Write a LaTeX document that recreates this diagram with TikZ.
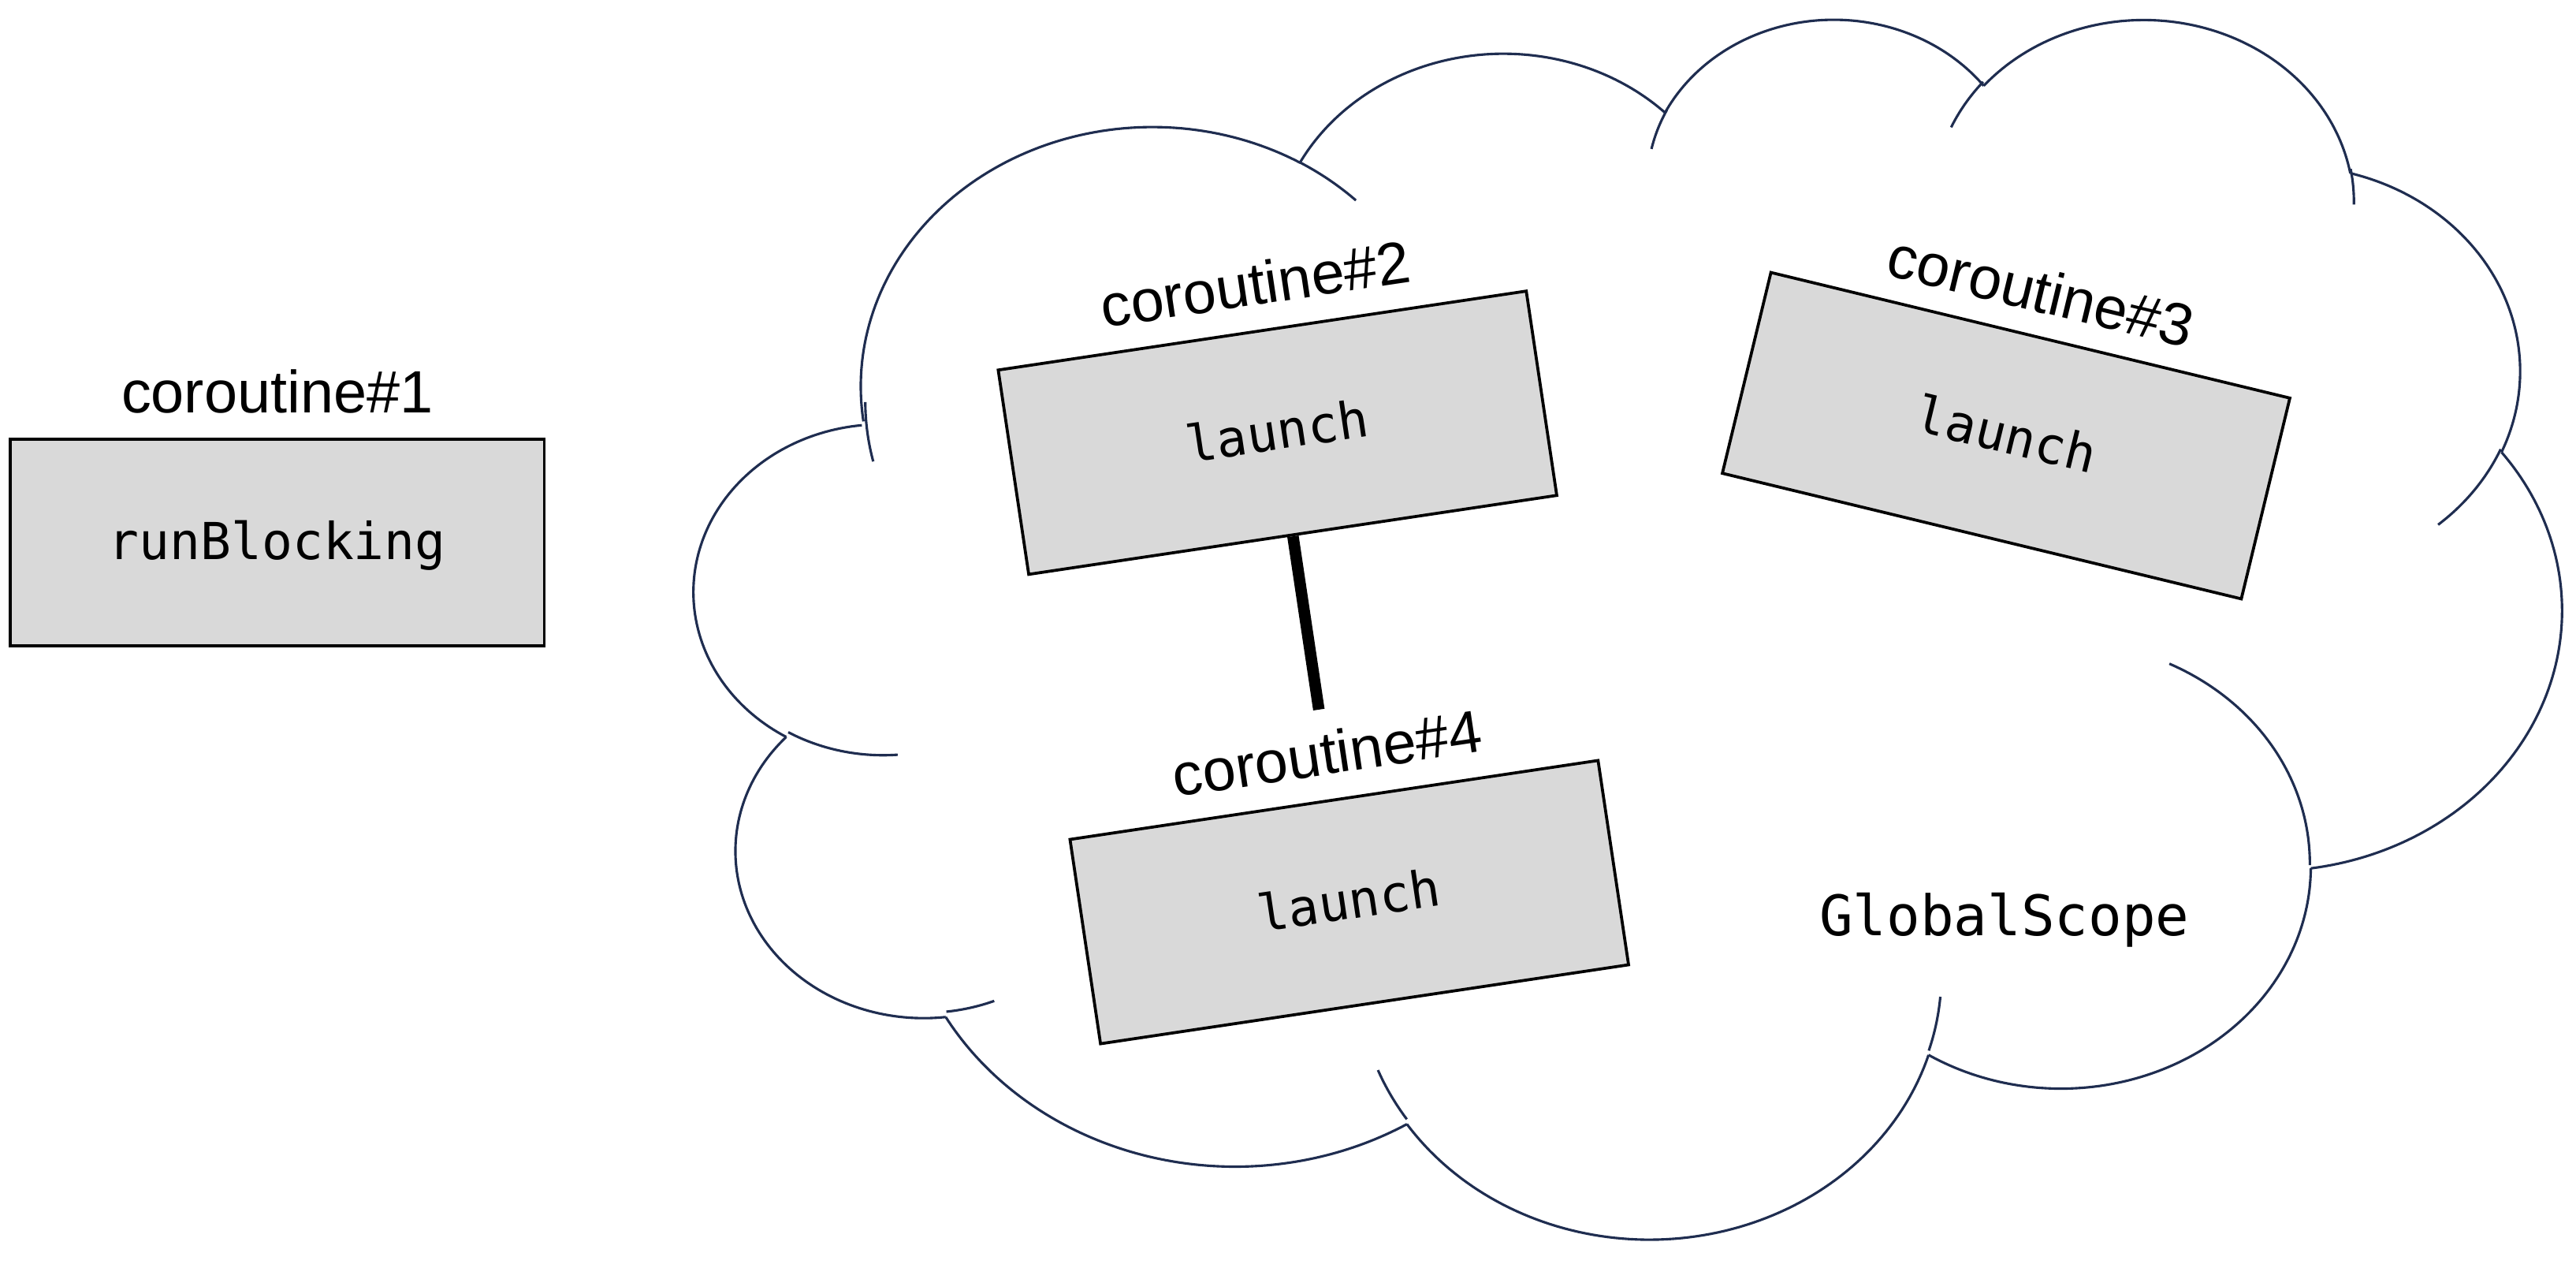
\documentclass[tikz,border=0pt]{standalone}
\usepackage{fontspec}
\newfontfamily\labelfont{Liberation Sans}
\newfontfamily\codefont{DejaVu Sans Mono}
\definecolor{cloudnavy}{HTML}{1F2D50}
\definecolor{boxgray}{HTML}{D9D9D9}
\tikzset{
  cloudline/.style={draw=cloudnavy, line width=0.75pt},
  cobox/.style={draw=black, fill=boxgray, line width=0.9pt, minimum width=162.5pt, minimum height=62.85pt,
    inner sep=0pt, text height=10.3pt, text depth=0pt, font=\codefont\fontsize{15.5pt}{18pt}\selectfont},
  colabel/.style={anchor=base, inner sep=0pt, font=\labelfont\fontsize{18.15pt}{21pt}\selectfont},
  scopelabel/.style={anchor=base, inner sep=0pt, font=\codefont\fontsize{17pt}{20pt}\selectfont},
  childlink/.style={draw=black, line width=3.5pt},
}
% cloud outline: elliptic arcs given as (wR, hR, start angle, sweep), angles as seen on the ellipse
\newcommand\cloudmove[2]{\pgfmathsetmacro\cldpx{#1}\pgfmathsetmacro\cldpy{#2}}
\newcommand\cloudarc[4]{%
  \pgfmathsetmacro\clda{#1}%
  \pgfmathsetmacro\cldb{#2}%
  \pgfmathsetmacro\cldta{atan2((\clda)*sin(#3),(\cldb)*cos(#3))}%
  \pgfmathsetmacro\cldtraw{atan2((\clda)*sin((#3)+(#4)),(\cldb)*cos((#3)+(#4)))}%
  \pgfmathsetmacro\cldtb{(\cldta)+mod((\cldtraw)-(\cldta)+720,360)}%
  \pgfmathsetmacro\cldcx{(\cldpx)-(\clda)*cos(\cldta)}%
  \pgfmathsetmacro\cldcy{(\cldpy)-(\cldb)*sin(\cldta)}%
  \draw[cloudline] plot[domain=\cldta:\cldtb, samples=90, variable=\x]
     ({(\cldcx)+(\clda)*cos(\x)},{(\cldcy)+(\cldb)*sin(\x)});%
  \pgfmathsetmacro\cldpx{(\cldcx)+(\clda)*cos(\cldtb)}%
  \pgfmathsetmacro\cldpy{(\cldcy)+(\cldb)*sin(\cldtb)}%
}
\begin{document}
\begin{tikzpicture}[x=0.5pt, y=0.5pt]
\useasboundingbox (0,0) rectangle (1568,771.5);
% GlobalScope cloud
\begin{scope}[xshift=211.5pt, yshift=380.95pt, x=1.314815pt, y=-0.858796pt]
  \cloudmove{39.00}{143.70}
  \cloudarc{67.53}{91.90}{-190.48748}{123.78053}
  \cloudarc{53.33}{72.67}{-144.10238}{89.94523}
  \cloudarc{43.65}{59.45}{-145.80792}{99.72302}
  \cloudarc{48.57}{65.95}{-130.98607}{117.24173}
  \cloudarc{53.33}{72.73}{-78.70888}{109.02692}
  \cloudarc{67.75}{92.20}{-46.26725}{130.269}
  \cloudarc{57.85}{78.67}{0.62502}{114.03333}
  \cloudarc{67.52}{92.15}{22.4516}{115.17255}
  \cloudarc{77.20}{105.43}{66.24263}{75.71102}
  \cloudarc{43.60}{59.18}{-274.94208}{146.73557}
  \cloudarc{43.45}{59.45}{-246.8285}{152.51885}
  % inner strokes
  \cloudmove{46.93}{261.77}\cloudarc{43.45}{59.45}{86.742}{26.4295}
  \cloudmove{69.28}{348.99}\cloudarc{43.60}{59.18}{73.61047}{11.44747}
  \cloudmove{164.78}{390.90}\cloudarc{67.52}{92.15}{137.62415}{14.0811}
  \cloudmove{288.27}{347.51}\cloudarc{67.52}{92.15}{6.45327}{15.99835}
  \cloudmove{341.29}{229.54}\cloudarc{57.85}{78.67}{-70.29235}{70.91737}
  \cloudmove{417.98}{153.54}\cloudarc{53.33}{72.73}{30.31803}{27.7515}
  \cloudmove{383.24}{54.26}\cloudarc{48.57}{65.95}{-13.74433}{14.8589}
  \cloudmove{290.78}{39.52}\cloudarc{48.57}{65.95}{-149.18145}{18.19537}
  \cloudmove{221.41}{47.20}\cloudarc{43.65}{59.45}{-163.49427}{17.68635}
  \cloudmove{140.00}{51.92}\cloudarc{67.53}{91.90}{-66.70695}{12.31935}
  \cloudmove{41.27}{157.89}\cloudarc{67.53}{91.90}{162.0373}{17.76945}
\end{scope}

\node[cobox] (b1) at (168.75,441.5) {runBlocking};
\node[colabel] (l1) at ([yshift=7.5pt]b1.north) {coroutine\#1};

\node[cobox, rotate=8.5] (b2) at (777.6,508.2) {launch};
\node[colabel, rotate=8.5] (l2) at ([shift={(98.5:15)}]b2.north) {coroutine\#2};

\node[cobox, rotate=-13.6] (b3) at (1221.1,506.4) {launch};
\node[colabel, rotate=-13.6] (l3) at ([shift={(76.4:14)}]b3.north) {coroutine\#3};

\node[cobox, rotate=8.5] (b4) at (821.3,222.6) {launch};
\node[colabel, rotate=8.5] (l4) at ([shift={(98.5:15)}]b4.north) {coroutine\#4};

\coordinate (link) at ([shift={(-81.5:106.6)}]b2.south);
\draw[childlink] (b2.south) -- (link);

\node[scopelabel] (gs) at (1220,202.4) {GlobalScope};
\end{tikzpicture}
\end{document}
